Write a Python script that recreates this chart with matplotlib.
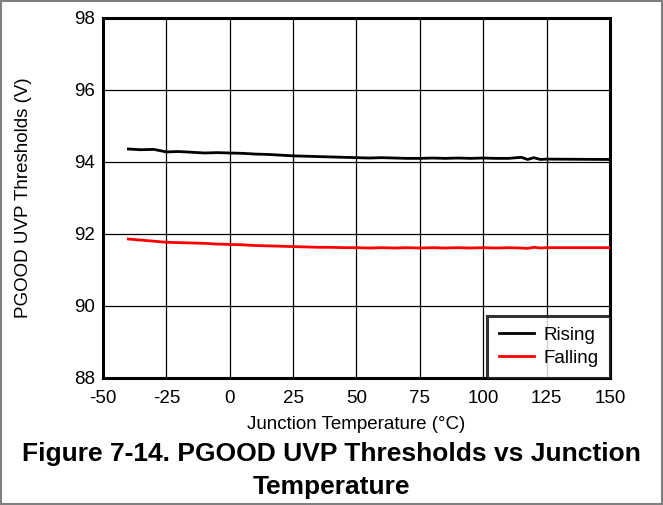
import matplotlib
matplotlib.use("Agg")
import matplotlib.pyplot as plt
from matplotlib.patches import Rectangle

plt.rcParams['font.family'] = ['Liberation Sans', 'DejaVu Sans']

temp = [-40, -35, -30, -25, -20, -15, -10, -5, 0, 5, 10, 15, 20, 25, 30, 35, 40,
        45, 50, 55, 60, 65, 70, 75, 80, 85, 90, 95, 100, 105, 110, 115, 117.5,
        120, 122.5, 125, 150]
rising = [94.36, 94.34, 94.35, 94.28, 94.29, 94.27, 94.25, 94.26, 94.25, 94.24,
          94.22, 94.21, 94.19, 94.17, 94.16, 94.15, 94.14, 94.13, 94.12, 94.11,
          94.12, 94.11, 94.10, 94.10, 94.11, 94.10, 94.11, 94.10, 94.11, 94.10,
          94.10, 94.13, 94.07, 94.12, 94.07, 94.08, 94.07]
falling = [91.86, 91.83, 91.80, 91.77, 91.76, 91.75, 91.74, 91.72, 91.71, 91.70,
           91.68, 91.67, 91.66, 91.65, 91.64, 91.63, 91.63, 91.62, 91.62, 91.61,
           91.62, 91.61, 91.62, 91.61, 91.62, 91.61, 91.62, 91.61, 91.62, 91.61,
           91.62, 91.61, 91.60, 91.63, 91.61, 91.62, 91.62]

x_ticks = [-50, -25, 0, 25, 50, 75, 100, 125, 150]
y_ticks = [88, 90, 92, 94, 96, 98]

fig = plt.figure(figsize=(6.63, 5.05), dpi=100)
ax = fig.add_axes([0.1554, 0.2515, 0.7646, 0.7129])

ax.plot(temp, rising, color='black', lw=2.0, label='Rising', zorder=3)
ax.plot(temp, falling, color='#ff0000', lw=2.0, label='Falling', zorder=3)

ax.set_xlim(-50, 150)
ax.set_ylim(88, 98)
ax.set_xticks(x_ticks)
ax.set_yticks(y_ticks)
ax.set_xticklabels([str(v) for v in x_ticks])
ax.set_yticklabels([str(v) for v in y_ticks])
ax.tick_params(length=0, labelsize=13.5)
ax.tick_params(axis='x', pad=9)
ax.tick_params(axis='y', pad=6)
ax.grid(True, color='black', lw=0.9)
ax.set_axisbelow(True)
for s in ax.spines.values():
    s.set_linewidth(2.2)

ax.set_xlabel('Junction Temperature (°C)', fontsize=13.5)
ax.set_ylabel('PGOOD UVP Thresholds (V)', fontsize=13.5)
ax.xaxis.set_label_coords(0.5, -0.105)
ax.yaxis.set_label_coords(-0.14, 0.5)

leg = ax.legend(loc='lower right', fontsize=13.5, frameon=True, fancybox=False,
                borderaxespad=0, handlelength=1.9, handletextpad=0.5,
                borderpad=0.6, labelspacing=0.3)
leg.get_frame().set_edgecolor('black')
leg.get_frame().set_linewidth(2.2)

fig.text(0.5, 0.100, 'Figure 7-14. PGOOD UVP Thresholds vs Junction',
         ha='center', va='center', fontsize=19, fontweight='bold')
fig.text(0.5, 0.036, 'Temperature',
         ha='center', va='center', fontsize=19, fontweight='bold')

fig.patches.append(Rectangle((0.001, 0.001), 0.998, 0.997, transform=fig.transFigure,
                             fill=False, edgecolor='#808080', lw=1.5))

fig.savefig('out.png', dpi=100)
